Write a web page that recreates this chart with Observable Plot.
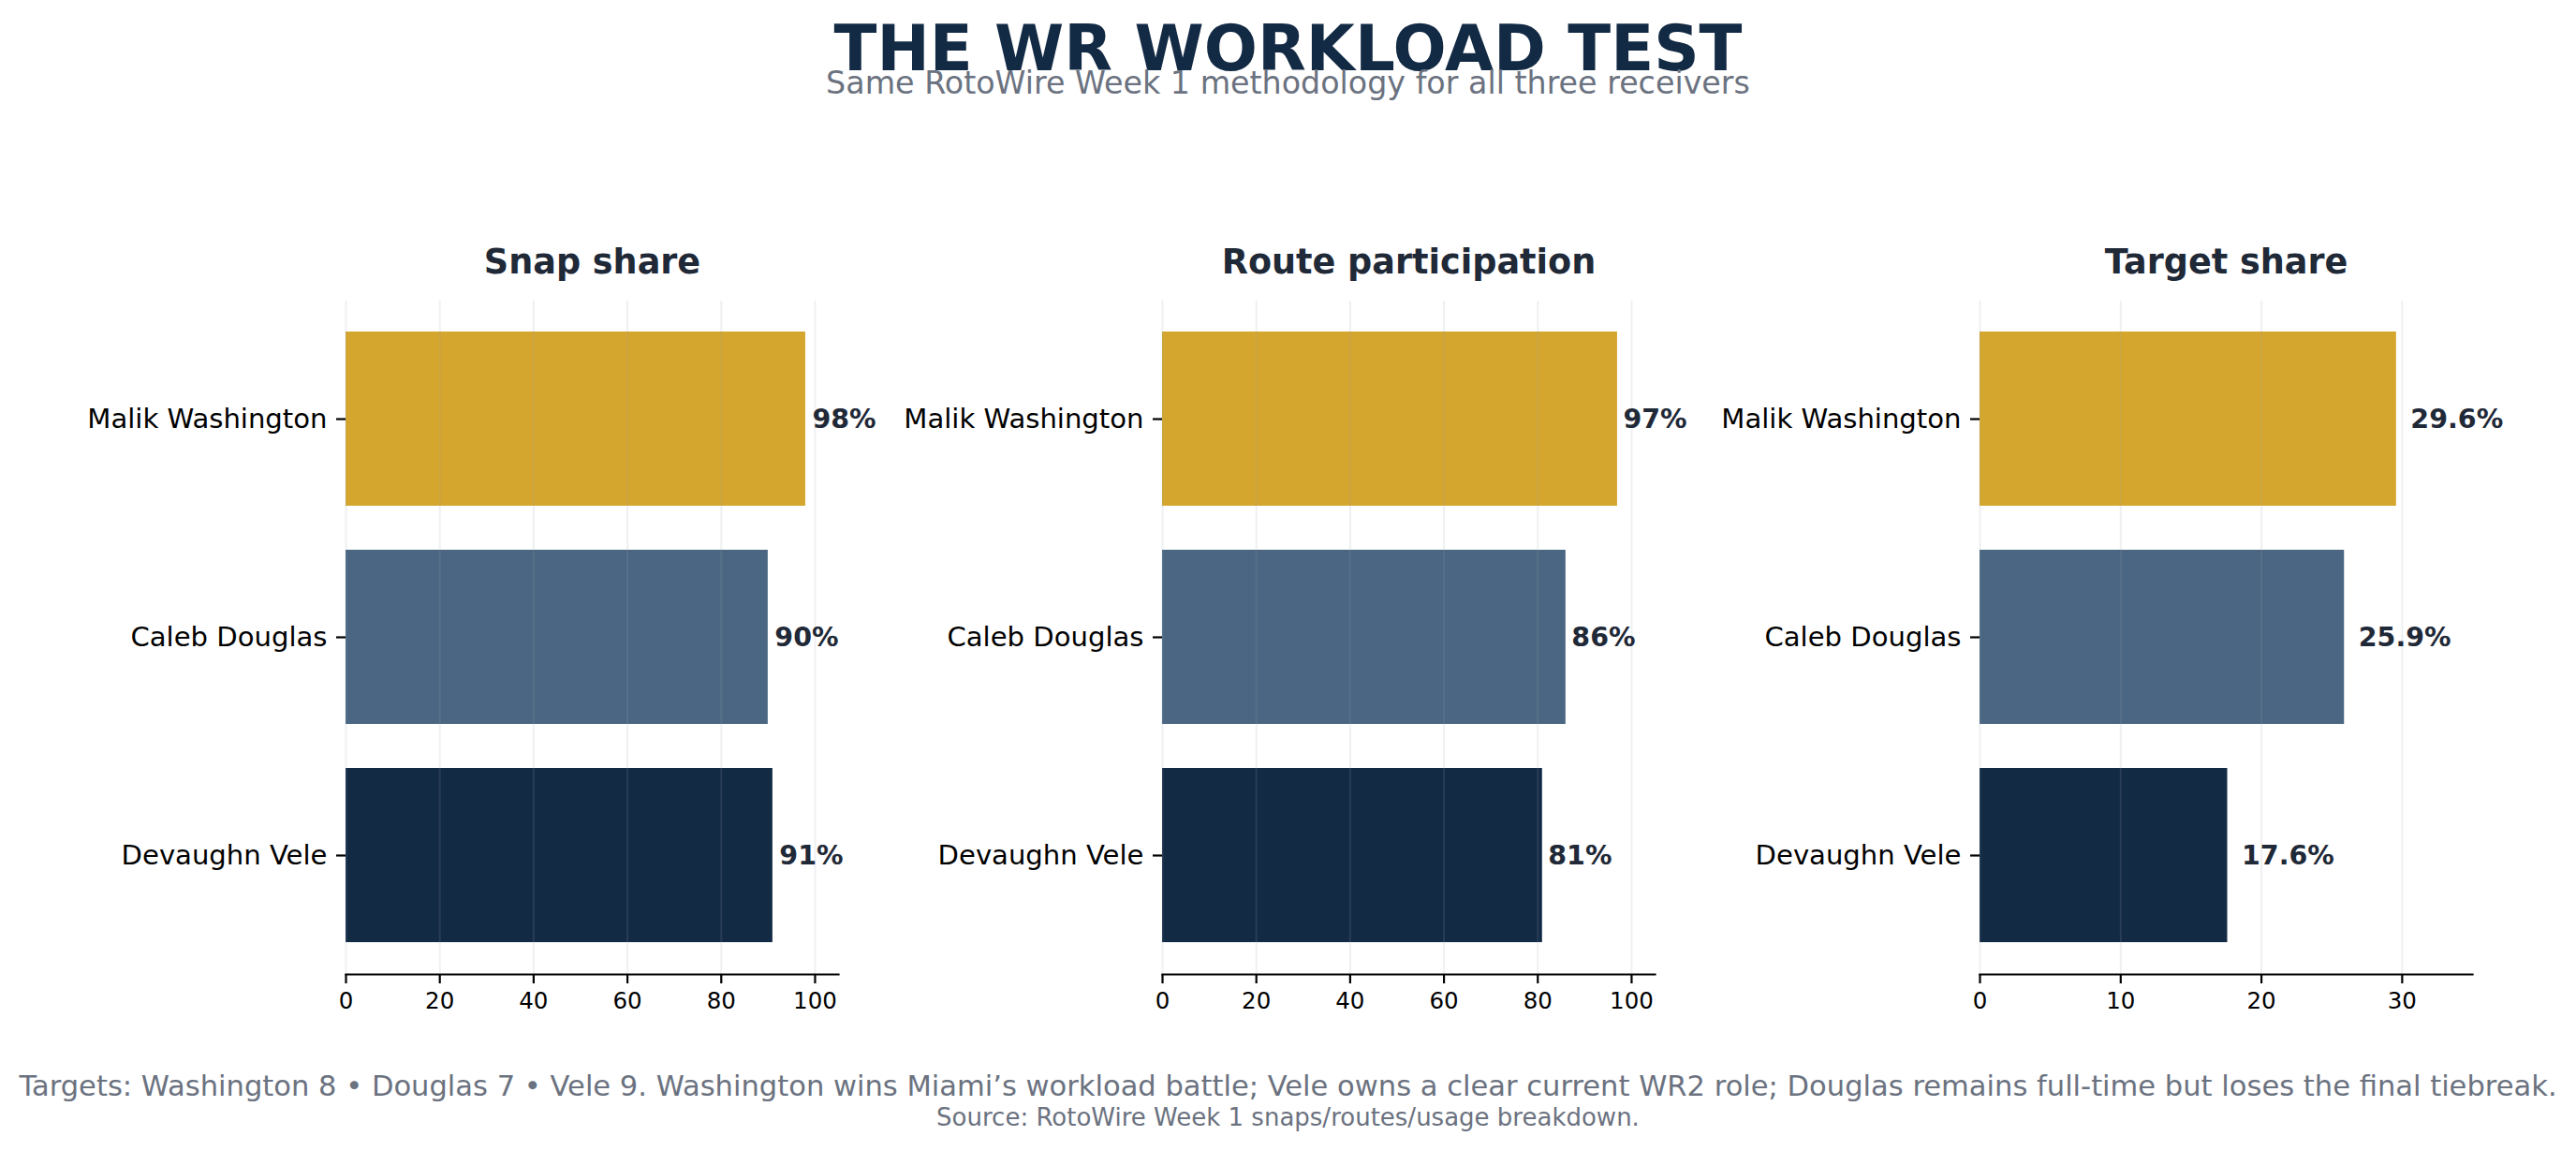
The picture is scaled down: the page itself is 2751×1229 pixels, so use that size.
<!DOCTYPE html>
<html><head><meta charset="utf-8">
<script src="https://cdn.jsdelivr.net/npm/d3@7"></script>
<script src="https://cdn.jsdelivr.net/npm/@observablehq/plot@0.6"></script>
<style>
html,body{margin:0;padding:0;background:#fff;}
#page{position:relative;width:2751px;height:1229px;overflow:hidden;font-family:"DejaVu Sans",sans-serif;background:#fff;}
.t{position:absolute;left:0;width:2751px;text-align:center;line-height:1;white-space:nowrap;}
#title{top:26.7px;font-size:67.3px;line-height:0.75;font-weight:bold;color:#132A44;}
#subtitle{top:76.8px;font-size:33.3px;line-height:0.75;color:#6B7280;}
#note{top:1145px;font-size:30.55px;color:#6B7280;}
#source{top:1180px;font-size:26px;color:#6B7280;}
.panel{position:absolute;top:221px;}
.panel svg{overflow:visible;max-width:none;}
</style></head><body><div id="page">
<div class="t" id="title">THE WR WORKLOAD TEST</div>
<div class="t" id="subtitle">Same RotoWire Week 1 methodology for all three receivers</div>
<div class="t" id="note">Targets: Washington 8 • Douglas 7 • Vele 9. Washington wins Miami’s workload battle; Vele owns a clear current WR2 role; Douglas remains full-time but loses the final tiebreak.</div>
<div class="t" id="source">Source: RotoWire Week 1 snaps/routes/usage breakdown.</div>
</div>
<script>
// ---- data ----
const players = ["Malik Washington", "Caleb Douglas", "Devaughn Vele"];
const playerColors = ["#D4A62D", "#4A6682", "#132A44"];
const snapShare = [98, 90, 91];
const routeParticipation = [97, 86, 81];
const targetShare = [29.6, 25.9, 17.6];
const panelTitles = ["Snap share", "Route participation", "Target share"];
const xDomainMax = [105, 105, 35];
const xTicks = [[0, 20, 40, 60, 80, 100], [0, 20, 40, 60, 80, 100], [0, 10, 20, 30]];
const labelFormats = [".0f", ".0f", ".1f"];
const panelValues = [snapShare, routeParticipation, targetShare];

// ---- layout ----
const frameLefts = [369, 1241, 2114];
const ML = 370, PW = 526, W = 1026, MT = 100, PH = 719, MB = 80;
const labelDx = [7, 6, 15];

const page = document.getElementById("page");
panelValues.forEach((vals, i) => {
  const data = players.map((p, j) => ({player: p, value: vals[j], color: playerColors[j]}));
  const fmt = d3.format(labelFormats[i]);
  const chart = Plot.plot({
    width: W, height: MT + PH + MB,
    marginLeft: ML, marginRight: W - ML - PW, marginTop: MT, marginBottom: MB,
    style: {fontFamily: "DejaVu Sans, sans-serif", color: "#000", background: "transparent", overflow: "visible"},
    x: {domain: [0, xDomainMax[i]]},
    y: {domain: players, paddingInner: 0.2, paddingOuter: 0.14},
    color: {type: "identity"},
    marks: [
      Plot.barX(data, {x: "value", y: "player", fill: "color"}),
      Plot.gridX(xTicks[i], {stroke: "#9ca3af", strokeOpacity: 0.16, strokeWidth: 2}),
      Plot.frame({anchor: "bottom", stroke: "#000", strokeWidth: 2.2}),
      Plot.axisX(xTicks[i], {tickSize: 10, tickPadding: 9, fontSize: 24.5, strokeWidth: 2.2, label: null, tickFormat: d3.format("d")}),
      Plot.axisY({tickSize: 10, tickPadding: 10, fontSize: 29.1, strokeWidth: 2.2, label: null}),
      Plot.text(data, {x: "value", y: "player", text: d => fmt(d.value) + "%", textAnchor: "start", dx: labelDx[i], fontWeight: "bold", fontSize: 28.5, fill: "#1F2937"}),
      Plot.text([panelTitles[i]], {frameAnchor: "top", lineAnchor: "bottom", dy: -30, fontSize: 36.6, fontWeight: "bold", fill: "#1F2937"})
    ]
  });
  const div = document.createElement("div");
  div.className = "panel";
  div.style.left = (frameLefts[i] - ML) + "px";
  div.appendChild(chart);
  page.appendChild(div);
});
</script>
</body></html>
